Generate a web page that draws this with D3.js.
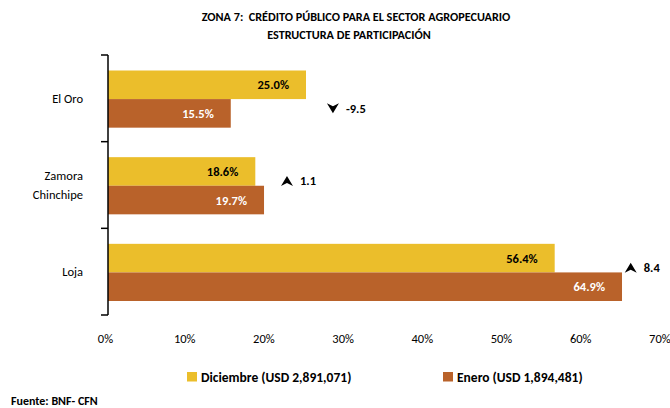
<!DOCTYPE html>
<html>
<head>
  <meta charset="utf-8">
  <script src="https://cdn.jsdelivr.net/npm/d3@7"></script>
  <style>
    body { margin: 0; background: #fff; }
    text { font-family: Carlito, Lato, sans-serif; }
  </style>
</head>
<body>
  <svg width="670" height="408" id="mainsvg"></svg>
  <script>
    // data
    const zonas = ['El Oro', 'Zamora Chinchipe', 'Loja'];
    const diciembre = [25.0, 18.6, 56.4];
    const enero = [15.5, 19.7, 64.9];
    const variacion = [-9.5, 1.1, 8.4];
    const flechaEn = [28.4, 22.6, 66.0]; // where the change marker sits, in %
    const xTicks = [0, 10, 20, 30, 40, 50, 60, 70];
    const series = ['Diciembre (USD 2,891,071)', 'Enero (USD 1,894,481)'];
    const colores = ['#EBBE2B', '#B9622A'];

    const svg = d3.select('#mainsvg');
    const margin = { top: 55, left: 108 };

    const xScale = d3.scaleLinear().domain([0, 70]).range([0, 554.4]);
    const yScale = d3.scaleBand().domain(zonas).range([0, 260]).paddingInner(0).paddingOuter(0);
    const inner = d3.scaleBand().domain([0, 1]).range([15.5, yScale.bandwidth() - 14]);

    const g = svg.append('g').attr('transform', `translate(${margin.left}, ${margin.top})`);

    // title
    svg.append('text').attr('x', 356).attr('y', 21).attr('text-anchor', 'middle')
      .attr('font-size', 12.2).attr('font-weight', 'bold').attr('xml:space', 'preserve')
      .text('ZONA 7:  CRÉDITO PÚBLICO PARA EL SECTOR AGROPECUARIO');
    svg.append('text').attr('x', 349).attr('y', 39).attr('text-anchor', 'middle')
      .attr('font-size', 12.2).attr('font-weight', 'bold')
      .text('ESTRUCTURA DE PARTICIPACIÓN');

    // bars
    const rows = zonas.map((z, i) => ({ zona: z, vals: [diciembre[i], enero[i]], cambio: variacion[i], pos: flechaEn[i] }));
    const grupo = g.selectAll('.zona').data(rows).enter().append('g')
      .attr('transform', d => `translate(0, ${yScale(d.zona)})`);

    grupo.selectAll('rect').data(d => d.vals).enter().append('rect')
      .attr('x', 0)
      .attr('y', (d, j) => inner(j))
      .attr('width', d => xScale(d))
      .attr('height', inner.bandwidth())
      .attr('fill', (d, j) => colores[j]);

    grupo.selectAll('.val').data(d => d.vals).enter().append('text')
      .attr('x', d => xScale(d) - 17)
      .attr('y', (d, j) => inner(j) + inner.bandwidth() / 2 + 4.5)
      .attr('text-anchor', 'end')
      .attr('font-size', 12.5).attr('font-weight', 'bold')
      .attr('fill', (d, j) => j === 0 ? '#000' : '#fff')
      .text(d => d.toFixed(1) + '%');

    // change markers
    const marca = grupo.append('g')
      .attr('transform', d => `translate(${xScale(d.pos)}, ${yScale.bandwidth() / 2 + (d.cambio < 0 ? 10 : -4)})`);
    marca.append('path')
      .attr('d', d => d.cambio < 0 ? 'M0,5 L6,-5 L0,-2 L-6,-5 Z' : 'M0,-5 L6,5 L0,2 L-6,5 Z')
      .attr('fill', '#000');
    marca.append('text')
      .attr('x', 13).attr('y', 4.5)
      .attr('font-size', 12.5).attr('font-weight', 'bold')
      .text(d => d.cambio.toFixed(1));

    // y axis
    const yAxisGroup = g.append('g');
    yAxisGroup.append('line').attr('x1', 0).attr('x2', 0).attr('y1', 0).attr('y2', 260)
      .attr('stroke', '#000').attr('stroke-width', 1.5);
    yAxisGroup.selectAll('.tk').data(d3.range(zonas.length + 1)).enter().append('line')
      .attr('x1', -7).attr('x2', 0)
      .attr('y1', i => i * yScale.step()).attr('y2', i => i * yScale.step())
      .attr('stroke', '#000').attr('stroke-width', 1.5);

    const etiquetas = g.selectAll('.cat').data(zonas).enter().append('text')
      .attr('text-anchor', 'end').attr('font-size', 12.5).attr('fill', '#000')
      .attr('x', -25)
      .attr('y', d => yScale(d) + yScale.bandwidth() / 2 + 4.5);
    etiquetas.each(function (d) {
      const partes = d === 'Zamora Chinchipe' ? ['Zamora', 'Chinchipe'] : [d];
      const t = d3.select(this);
      partes.forEach((p, k) => {
        t.append('tspan').attr('x', -25)
          .attr('dy', k === 0 ? (partes.length > 1 ? -9.5 : 0) : 19)
          .text(p);
      });
    });

    // x axis labels
    const xAxis = d3.axisBottom(xScale).tickValues(xTicks).tickSize(0).tickPadding(0)
      .tickFormat(d => d + '%');
    const xAxisGroup = g.append('g').attr('transform', 'translate(0, 279)').call(xAxis);
    xAxisGroup.select('.domain').remove();
    xAxisGroup.selectAll('text').attr('font-size', 12.5).attr('fill', '#000')
      .attr('font-family', 'Carlito, Lato, sans-serif').attr('dx', -3);

    // legend
    const leyX = [187, 443];
    const ley = svg.selectAll('.ley').data(series).enter().append('g')
      .attr('transform', (d, i) => `translate(${leyX[i]}, 372)`);
    ley.append('rect').attr('width', 10).attr('height', 9.5).attr('fill', (d, i) => colores[i]);
    ley.append('text').attr('x', 14).attr('y', 10)
      .attr('font-size', 13.5).attr('font-weight', 'bold').text(d => d);

    svg.append('text').attr('x', 11).attr('y', 405)
      .attr('font-size', 12).attr('font-weight', 'bold').text('Fuente: BNF- CFN');
  </script>
</body>
</html>
